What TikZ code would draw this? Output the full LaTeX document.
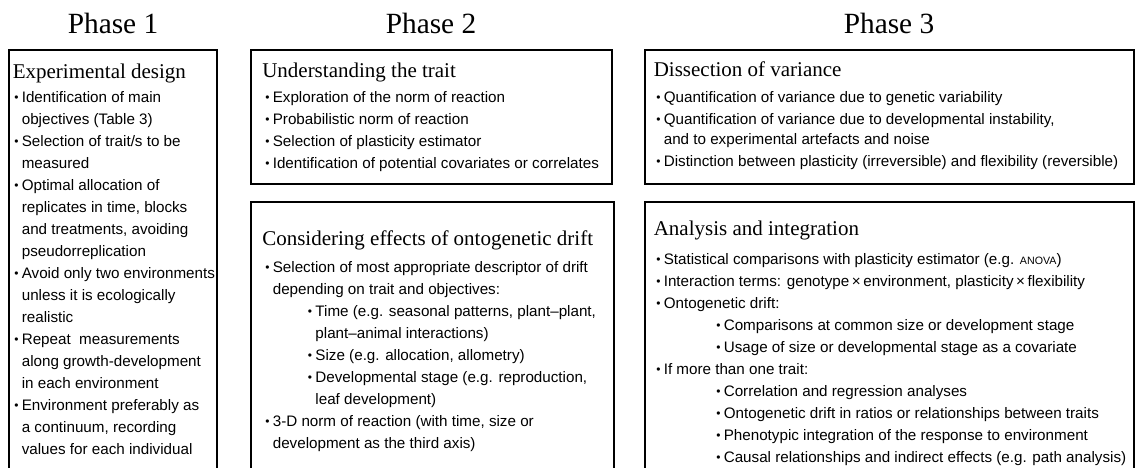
\documentclass[tikz,border=0pt]{standalone}
\usepackage{fontspec}
\setmainfont{Liberation Serif}
\setsansfont{Liberation Sans}
\newcommand{\bul}{\raisebox{0.5pt}{\fontsize{9}{9}\selectfont\textbullet}\hspace{2.5pt}}
\newcommand{\hng}{\phantom{\bul}}
\newcommand{\lst}[1]{\begin{tabular}[t]{@{}l@{}}#1\end{tabular}}
\tikzset{
  phase/.style={anchor=base, inner sep=0pt, font=\fontsize{22}{24}\selectfont},
  head/.style={anchor=base west, inner sep=0pt, font=\fontsize{15.75}{18}\selectfont},
  list/.style={anchor=base west, inner sep=0pt, font=\sffamily\fontsize{11.4}{16.5}\selectfont},
  frame/.style={draw, line width=0.9pt}
}
\begin{document}
\begin{tikzpicture}[x=0.75pt,y=-0.75pt]
        \clip (0,0) rectangle (1140,468);
        \draw[frame] (9,50) rectangle (217,480);
        \draw[frame] (251,50) rectangle (612,184);
        \draw[frame] (251,202) rectangle (614,480);
        \draw[frame] (645,50) rectangle (1134,184);
        \draw[frame] (645,202) rectangle (1134,480);
        \node[phase] (t1) at (113,33) {Phase 1};
        \node[phase] (t2) at (431,33) {Phase 2};
        \node[phase] (t3) at (889,33) {Phase 3};
        \node[head] (h1) at (12.5,78) {Experimental design};
        \node[list] (l1) at (14,102.5) {\lst{
          \bul Identification of main\\
          \hng objectives (Table 3)\\
          \bul Selection of trait/s to be\\
          \hng measured\\
          \bul Optimal allocation of\\
          \hng replicates in time, blocks\\
          \hng and treatments, avoiding\\
          \hng pseudorreplication\\
          \bul Avoid only two environments\\
          \hng unless it is ecologically\\
          \hng realistic\\
          \bul Repeat\ \ measurements\\
          \hng along growth-development\\
          \hng in each environment\\
          \bul Environment preferably as\\
          \hng a continuum, recording\\
          \hng values for each individual}};
        \node[head] (h2) at (262,77.5) {Understanding the trait};
        \node[list] (l2) at (265,102.5) {\lst{
          \bul Exploration of the norm of reaction\\
          \bul Probabilistic norm of reaction\\
          \bul Selection of plasticity estimator\\
          \bul Identification of potential covariates or correlates}};
        \node[head] (h3) at (262,245.5) {Considering effects of ontogenetic drift};
        \node[list] (l3) at (265,272) {\lst{
          \bul Selection of most appropriate descriptor of drift\\
          \hng depending on trait and objectives:\\
          \hspace*{32pt}\bul Time (e.g. seasonal patterns, plant–plant,\\
          \hspace*{32pt}\hng plant–animal interactions)\\
          \hspace*{32pt}\bul Size (e.g. allocation, allometry)\\
          \hspace*{32pt}\bul Developmental stage (e.g. reproduction,\\
          \hspace*{32pt}\hng leaf development)\\
          \bul 3-D norm of reaction (with time, size or\\
          \hng development as the third axis)}};
        \node[head] (h4) at (653.5,76) {Dissection of variance};
        \node[list] (l4) at (656,102.5) {\lst{
          \bul Quantification of variance due to genetic variability\\
          \bul Quantification of variance due to developmental instability,\\[-1.5pt]
          \hng and to experimental artefacts and noise\\
          \bul Distinction between plasticity (irreversible) and flexibility (reversible)}};
        \node[head] (h5) at (653.5,235) {Analysis and integration};
        \node[list] (l5) at (656,264.5) {\lst{
          \bul Statistical comparisons with plasticity estimator (e.g. {\fontsize{8}{8}\selectfont ANOVA})\\
          \bul Interaction terms: genotype\,×\,environment, plasticity\,×\,flexibility\\
          \bul Ontogenetic drift:\\
          \hspace*{45pt}\bul Comparisons at common size or development stage\\
          \hspace*{45pt}\bul Usage of size or developmental stage as a covariate\\
          \bul If more than one trait:\\
          \hspace*{45pt}\bul Correlation and regression analyses\\
          \hspace*{45pt}\bul Ontogenetic drift in ratios or relationships between traits\\
          \hspace*{45pt}\bul Phenotypic integration of the response to environment\\
          \hspace*{45pt}\bul Causal relationships and indirect effects (e.g. path analysis)}};
    \end{tikzpicture}
\end{document}
